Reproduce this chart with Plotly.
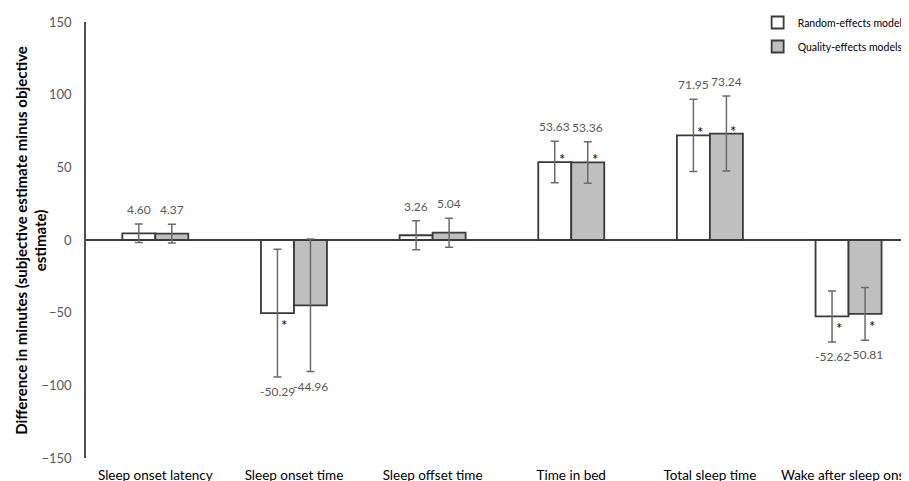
import plotly.graph_objects as go

categories = ["Sleep onset latency", "Sleep onset time", "Sleep offset time",
              "Time in bed", "Total sleep time", "Wake after sleep onset"]
random_vals = [4.60, -50.29, 3.26, 53.63, 71.95, -52.62]
quality_vals = [4.37, -44.96, 5.04, 53.36, 73.24, -50.81]
random_err = [6.4, 44.0, 10.0, 14.3, 24.9, 17.5]
quality_err = [6.5, 45.6, 10.0, 14.3, 25.8, 18.1]
random_sig = [False, True, False, True, True, True]
quality_sig = [False, False, False, True, True, True]
y_ticks = [-150, -100, -50, 0, 50, 100, 150]

FONT = "Lato"
x_idx = list(range(len(categories)))
bargap = 0.524
half = (1 - bargap) / 4  # offset of each bar centre from group centre

fig = go.Figure()
fig.add_trace(go.Bar(
    x=x_idx, y=random_vals, name="Random-effects models", legendgroup="a",
    marker=dict(color="white", line=dict(color="#3a3a3a", width=1.8)),
    error_y=dict(type="data", array=random_err, color="#6b6b6b", thickness=1.5, width=4),
))
fig.add_trace(go.Bar(
    x=x_idx, y=quality_vals, name="Quality-effects models", legendgroup="b",
    marker=dict(color="#bfbfbf", line=dict(color="#3a3a3a", width=1.8)),
    error_y=dict(type="data", array=quality_err, color="#6b6b6b", thickness=1.5, width=4),
))

annotations = []
for vals, errs, sig, sgn in [(random_vals, random_err, random_sig, -1),
                             (quality_vals, quality_err, quality_sig, 1)]:
    for i, (v, e, s) in enumerate(zip(vals, errs, sig)):
        xc = i + sgn * half
        if v >= 0:
            annotations.append(dict(x=xc, y=v + e, text=f"{v:.2f}", showarrow=False,
                                    yanchor="bottom", yshift=5,
                                    font=dict(family=FONT, size=12, color="#595959")))
        else:
            annotations.append(dict(x=xc, y=v - e, text=f"{v:.2f}", showarrow=False,
                                    yanchor="top", yshift=-5,
                                    font=dict(family=FONT, size=12, color="#595959")))
        if s:
            annotations.append(dict(x=xc, y=v, text="*", showarrow=False,
                                    xshift=7, yshift=(3 if v >= 0 else -12),
                                    font=dict(family=FONT, size=15, color="black")))

annotations.append(dict(
    xref="paper", yref="paper", x=-0.067, y=0.5, xanchor="center", yanchor="middle",
    text="<b>Difference in minutes (subjective estimate minus objective<br>estimate)</b>",
    textangle=-90, showarrow=False, font=dict(family=FONT, size=15, color="black")))

# page body adds an 8px offset, so the figure is sized to fill the window from there
fig.update_layout(
    width=901, height=473,
    margin=dict(l=78, r=0, t=14, b=23, autoexpand=False),
    paper_bgcolor="white", plot_bgcolor="white",
    barmode="group", bargap=bargap, bargroupgap=0,
    font=dict(family=FONT, color="black"),
    showlegend=True,
    legend=dict(xref="container", yref="container", x=0.832, y=1.0,
                xanchor="left", yanchor="top", traceorder="grouped",
                font=dict(family=FONT, size=10.5, color="black"),
                bgcolor="rgba(0,0,0,0)", itemwidth=30, tracegroupgap=5),
    annotations=annotations,
    xaxis=dict(range=[-0.5, 5.436], tickvals=x_idx, ticktext=categories,
               showline=False, showgrid=False, zeroline=False, ticks="",
               automargin=False, ticklabeloverflow="allow", ticklabelstandoff=7,
               tickfont=dict(family=FONT, size=13.5, color="black")),
    yaxis=dict(range=[-150, 150], tickvals=y_ticks, showgrid=False,
               showline=True, linecolor="#505050", linewidth=1.5,
               zeroline=True, zerolinecolor="#404040", zerolinewidth=1.5,
               ticks="", ticklabelstandoff=10, automargin=False,
               tickfont=dict(family=FONT, size=13, color="#595959")),
)
fig.write_html("out.html")
